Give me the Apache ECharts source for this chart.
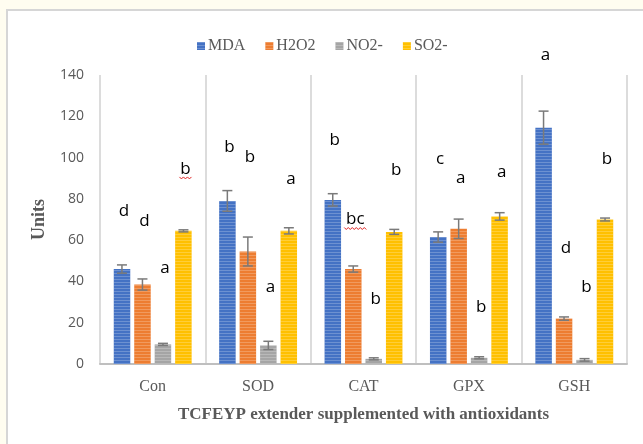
<!DOCTYPE html>
<html>
<head>
<meta charset="utf-8">
<script src="https://cdn.jsdelivr.net/npm/echarts@6/dist/echarts.min.js"></script>
<style>
html,body{margin:0;padding:0;background:#fffdf0;}
#c{width:643px;height:444px;}
</style>
</head>
<body>
<div id="c"></div>
<script>
var categories = ['Con', 'SOD', 'CAT', 'GPX', 'GSH'];
var seriesNames = ['MDA', 'H2O2', 'NO2-', 'SO2-'];
var colors = ['#4472C4', '#ED7D31', '#A5A5A5', '#FFC000'];
var mdaValues = [46, 79, 79.5, 61.5, 114.5];
var h2o2Values = [38.5, 54.5, 46, 65.5, 22];
var no2Values = [9.5, 9, 2.5, 3, 2];
var so2Values = [64.5, 64.5, 64, 71.5, 70];
var mdaErr = [2, 5, 3, 2.5, 8];
var h2o2Err = [2.7, 7, 1.5, 4.7, 0.8];
var no2Err = [0.5, 2, 0.5, 0.5, 0.6];
var so2Err = [0.5, 1.5, 1.2, 1.8, 0.7];
var yTicks = [0, 20, 40, 60, 80, 100, 120, 140];
// significance letters: [letter, value-axis height of letter centre]
var mdaLetters = [['d', 74], ['b', 105], ['b', 108.5], ['c', 99], ['a', 149.5]];
var h2o2Letters = [['d', 69], ['b', 100], ['bc', 70], ['a', 90], ['d', 56]];
var no2Letters = [['a', 46.5], ['a', 37], ['b', 31.5], ['b', 27.5], ['b', 37]];
var so2Letters = [['b', 94.5], ['a', 89.5], ['b', 94], ['a', 93], ['b', 99]];
var squiggled = [[0, 3], [2, 1]]; // [category, series] with spell-check underline

var values = [mdaValues, h2o2Values, no2Values, so2Values];
var errs = [mdaErr, h2o2Err, no2Err, so2Err];
var letters = [mdaLetters, h2o2Letters, no2Letters, so2Letters];

var BAR_W = 16.5, BAR_STEP = 20.5;
function offsetOf(si) { return (si - 1.5) * BAR_STEP; }

var series = [];
seriesNames.forEach(function (name, si) {
  series.push({
    name: name,
    type: 'bar',
    data: values[si],
    barWidth: BAR_W,
    barGap: '24%',
    itemStyle: {
      color: colors[si],
      decal: {
        symbol: 'rect',
        symbolSize: 1,
        dashArrayX: [[1, 0]],
        dashArrayY: [1, 2],
        color: 'rgba(255,255,255,0.22)'
      }
    }
  });
});

seriesNames.forEach(function (name, si) {
  var data = values[si].map(function (v, ci) { return [ci, v, errs[si][ci]]; });
  series.push({
    type: 'custom',
    silent: true,
    z: 5,
    data: data,
    renderItem: function (params, api) {
      var ci = api.value(0), v = api.value(1), e = api.value(2);
      var top = api.coord([ci, v + e]);
      var bot = api.coord([ci, v - e]);
      var x = top[0] + offsetOf(si);
      var cap = 5;
      var st = { stroke: '#7a7a7a', lineWidth: 1.5 };
      return {
        type: 'group',
        children: [
          { type: 'line', shape: { x1: x, y1: top[1], x2: x, y2: bot[1] }, style: st },
          { type: 'line', shape: { x1: x - cap, y1: top[1], x2: x + cap, y2: top[1] }, style: st },
          { type: 'line', shape: { x1: x - cap, y1: bot[1], x2: x + cap, y2: bot[1] }, style: st }
        ]
      };
    }
  });
});

seriesNames.forEach(function (name, si) {
  var data = letters[si].map(function (l, ci) { return [ci, l[1], l[0]]; });
  series.push({
    type: 'custom',
    silent: true,
    z: 6,
    data: data,
    renderItem: function (params, api) {
      var ci = api.value(0), y = api.value(1);
      var txt = letters[si][ci][0];
      var p = api.coord([ci, y]);
      var x = p[0] + offsetOf(si) + 2;
      var children = [{
        type: 'text',
        style: {
          text: txt, x: x, y: p[1], align: 'center', verticalAlign: 'middle',
          font: '17px "Open Sans", "Liberation Sans", sans-serif', fill: '#000'
        }
      }];
      var sq = squiggled.some(function (s) { return s[0] === ci && s[1] === si; });
      if (sq) {
        var w = txt.length * 10 + 2;
        var pts = [];
        var x0 = x - w / 2, yy = p[1] + 8;
        for (var k = 0; k <= w / 2; k++) {
          pts.push([x0 + k * 2, yy + (k % 2 === 0 ? 0 : 2)]);
        }
        children.push({ type: 'polyline', shape: { points: pts }, style: { stroke: '#e02020', lineWidth: 1, fill: null } });
      }
      return { type: 'group', children: children };
    }
  });
});

var chart = echarts.init(document.getElementById('c'), null, { renderer: 'canvas' });
chart.setOption({
  animation: false,
  backgroundColor: 'transparent',
  graphic: [{
    type: 'rect', z: -10,
    shape: { x: 7, y: 10, width: 700, height: 500 },
    style: { fill: '#ffffff', stroke: '#d6d6d6', lineWidth: 2 }
  }],
  legend: {
    data: seriesNames,
    top: 33,
    left: 192,
    icon: 'rect',
    itemWidth: 8,
    itemHeight: 8,
    itemGap: 20,
    textStyle: { fontFamily: '"Liberation Serif", serif', fontSize: 16, color: '#595959', padding: [0, 0, 0, -2] }
  },
  grid: { left: 100, right: 16, top: 75, bottom: 80, containLabel: false },
  xAxis: {
    type: 'category',
    data: categories,
    name: 'TCFEYP extender supplemented with antioxidants',
    nameLocation: 'middle',
    nameGap: 42,
    nameTextStyle: { fontFamily: '"Liberation Serif", serif', fontSize: 17, fontWeight: 'bold', color: '#595959' },
    axisLine: { lineStyle: { color: '#bfbfbf', width: 2 } },
    axisTick: { show: false },
    axisLabel: { fontFamily: '"Liberation Serif", serif', fontSize: 16, color: '#595959', margin: 15 },
    splitLine: { show: true, lineStyle: { color: '#d0d0d0', width: 1.5 } }
  },
  yAxis: {
    type: 'value',
    min: 0, max: 140, interval: 20,
    name: 'Units',
    nameLocation: 'middle',
    nameGap: 52,
    nameTextStyle: { fontFamily: '"Liberation Serif", serif', fontSize: 18, fontWeight: 'bold', color: '#595959' },
    axisLine: { show: false },
    axisTick: { show: false },
    splitLine: { show: false },
    axisLabel: {
      fontFamily: '"Open Sans", "Liberation Sans", sans-serif', fontSize: 14, color: '#595959', margin: 16,
      formatter: function (v) { return yTicks.indexOf(v) >= 0 ? String(v) : ''; }
    }
  },
  series: series
});
</script>
</body>
</html>
